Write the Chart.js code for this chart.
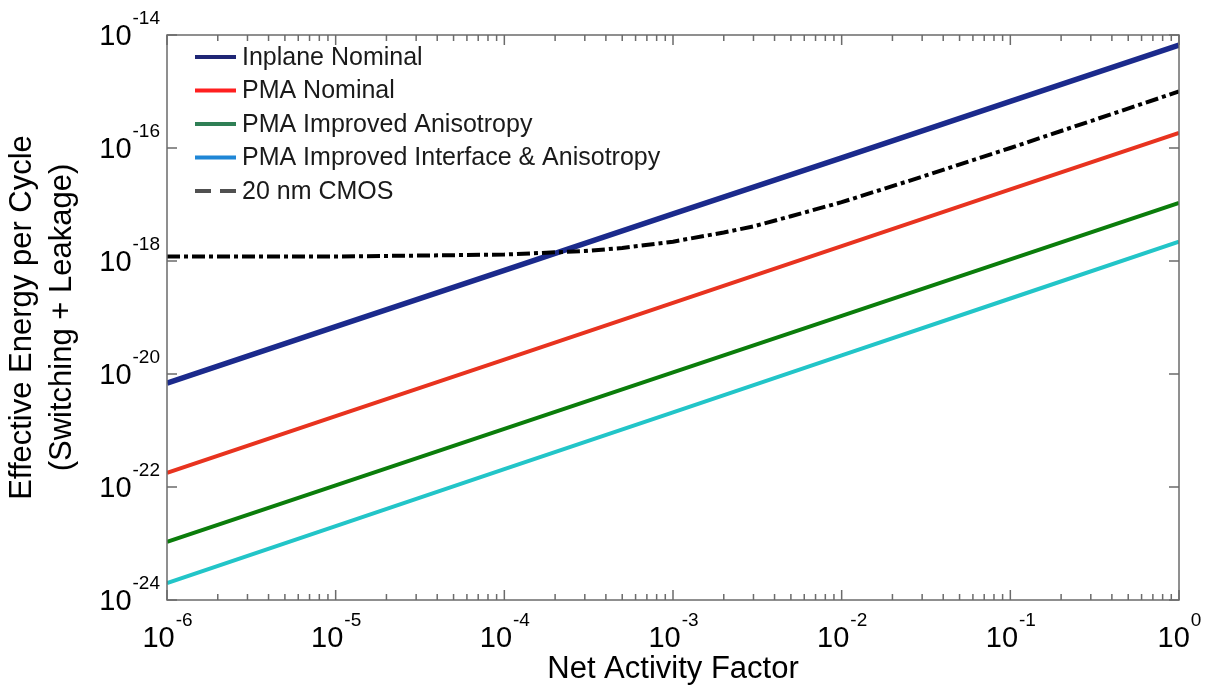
<!DOCTYPE html>
<html>
<head>
<meta charset="utf-8">
<title>Effective energy per cycle vs net activity factor</title>
<script src="https://cdn.jsdelivr.net/npm/chart.js@4.4.1/dist/chart.umd.min.js"></script>
<style>
    html, body { margin: 0; padding: 0; background: #fff; }
    #wrap { width: 1211px; height: 691px; }
</style>
</head>
<body>
<div id="wrap"><canvas id="energyChart" width="1211" height="691"></canvas></div>
<script>
// device lines are straight on log-log, read once per decade
var activity = [1e-6, 1e-5, 1e-4, 1e-3, 1e-2, 1e-1, 1];
var inplaneNominal = [6.9e-21, 6.9e-20, 6.8e-19, 6.8e-18, 6.7e-17, 6.7e-16, 6.6e-15];
var pmaNominal = [1.78e-22, 1.8e-21, 1.8e-20, 1.82e-19, 1.83e-18, 1.85e-17, 1.86e-16];
var pmaAnisotropy = [1.07e-23, 1.07e-22, 1.07e-21, 1.07e-20, 1.07e-19, 1.07e-18, 1.07e-17];
var pmaInterface = [2.0e-24, 2.03e-23, 2.07e-22, 2.1e-21, 2.13e-20, 2.17e-19, 2.2e-18];

// the CMOS curve bends, so it is read at more places
var cmosActivity = [1e-6, 1e-5, 1e-4, 3e-4, 5e-4, 1e-3, 2e-3, 3e-3, 5e-3, 1e-2, 3e-2, 1e-1, 3e-1, 1];
var cmos20nm = [1.2e-18, 1.2e-18, 1.3e-18, 1.5e-18, 1.7e-18, 2.2e-18, 3.2e-18, 4.1e-18, 6.2e-18,
    1.1e-17, 3.1e-17, 1.0e-16, 3.0e-16, 1.0e-15];

// tick labels are powers of ten
var xTickExps = [-6, -5, -4, -3, -2, -1, 0];
var yTickExps = [-24, -22, -20, -18, -16, -14];

var seriesNames = ['Inplane Nominal', 'PMA Nominal', 'PMA Improved Anisotropy',
    'PMA Improved Interface & Anisotropy', '20 nm CMOS'];

function toPoints(xs, ys) {
    return xs.map(function (x, i) { return {x: x, y: ys[i]}; });
}

var FONT = '"Liberation Sans", Arial, sans-serif';

// legend swatches are a bit different from the plotted lines in the original
var legendStyle = [
    {color: '#1f2675', dash: []},
    {color: '#ff1f1f', dash: []},
    {color: '#2f7f55', dash: []},
    {color: '#1f86d6', dash: []},
    {color: '#505050', dash: [16, 9]}
];

function drawPower(ctx, exp, x, y, mode) {
    // "10" with a raised exponent; mode 'center' (x axis) or 'right' (y axis)
    ctx.font = '29px ' + FONT;
    var wb = ctx.measureText('10').width;
    ctx.font = '19px ' + FONT;
    var we = ctx.measureText(String(exp)).width;
    var start = mode === 'center' ? x - (wb + we) / 2 : x - wb - we - 1;
    ctx.textAlign = 'left';
    ctx.textBaseline = 'alphabetic';
    ctx.font = '29px ' + FONT;
    ctx.fillText('10', start, y);
    ctx.font = '19px ' + FONT;
    ctx.fillText(String(exp), start + wb + 1, y - 21);
}

var axesPlugin = {
    id: 'matlabAxes',
    afterDatasetsDraw: function (chart) {
        var ctx = chart.ctx;
        var area = chart.chartArea;
        var xs = chart.scales.x;
        var ys = chart.scales.y;
        ctx.save();

        // frame
        ctx.strokeStyle = '#6b6b6b';
        ctx.lineWidth = 1.5;
        ctx.setLineDash([]);
        ctx.strokeRect(area.left, area.top, area.right - area.left, area.bottom - area.top);

        // inward ticks, x: majors plus 2..9 minors, top and bottom
        ctx.beginPath();
        xTickExps.forEach(function (e, i) {
            var px = xs.getPixelForValue(Math.pow(10, e));
            ctx.moveTo(px, area.bottom); ctx.lineTo(px, area.bottom - 10);
            ctx.moveTo(px, area.top); ctx.lineTo(px, area.top + 10);
            if (i < xTickExps.length - 1) {
                for (var m = 2; m <= 9; m++) {
                    var pm = xs.getPixelForValue(m * Math.pow(10, e));
                    ctx.moveTo(pm, area.bottom); ctx.lineTo(pm, area.bottom - 6);
                    ctx.moveTo(pm, area.top); ctx.lineTo(pm, area.top + 6);
                }
            }
        });
        yTickExps.forEach(function (e) {
            var py = ys.getPixelForValue(Math.pow(10, e));
            ctx.moveTo(area.left, py); ctx.lineTo(area.left + 10, py);
            ctx.moveTo(area.right, py); ctx.lineTo(area.right - 10, py);
        });
        ctx.stroke();

        // tick labels
        ctx.fillStyle = '#000';
        xTickExps.forEach(function (e) {
            drawPower(ctx, e, xs.getPixelForValue(Math.pow(10, e)), area.bottom + 47, 'center');
        });
        yTickExps.forEach(function (e) {
            drawPower(ctx, e, area.left - 7, ys.getPixelForValue(Math.pow(10, e)) + 10, 'right');
        });

        // legend in the upper left of the plot
        ctx.font = '25px ' + FONT;
        ctx.textBaseline = 'middle';
        ctx.textAlign = 'left';
        chart.data.datasets.forEach(function (ds, i) {
            var cy = area.top + 22 + i * 33.5;
            ctx.strokeStyle = legendStyle[i].color;
            ctx.lineWidth = 4;
            ctx.setLineDash(legendStyle[i].dash);
            ctx.beginPath();
            ctx.moveTo(area.left + 28, cy);
            ctx.lineTo(area.left + 69, cy);
            ctx.stroke();
            ctx.setLineDash([]);
            ctx.fillStyle = '#1a1a1a';
            ctx.fillText(ds.label, area.left + 75, cy + 1);
        });
        ctx.restore();
    }
};

var ctx = document.getElementById('energyChart').getContext('2d');
new Chart(ctx, {
    type: 'line',
    data: {
        datasets: [{
            label: seriesNames[0],
            data: toPoints(activity, inplaneNominal),
            borderColor: '#1b2a8c',
            borderWidth: 5.5,
            order: 5
        }, {
            label: seriesNames[1],
            data: toPoints(activity, pmaNominal),
            borderColor: '#e8331f',
            borderWidth: 4,
            order: 4
        }, {
            label: seriesNames[2],
            data: toPoints(activity, pmaAnisotropy),
            borderColor: '#0b7d0b',
            borderWidth: 4,
            order: 3
        }, {
            label: seriesNames[3],
            data: toPoints(activity, pmaInterface),
            borderColor: '#22c5c8',
            borderWidth: 4,
            order: 2
        }, {
            label: seriesNames[4],
            data: toPoints(cmosActivity, cmos20nm),
            borderColor: '#000000',
            borderWidth: 4,
            borderDash: [13, 4, 4, 4],
            order: 1
        }]
    },
    options: {
        responsive: false,
        animation: false,
        events: [],
        layout: {padding: {left: 0, top: 35, right: 32, bottom: 0}},
        elements: {
            point: {radius: 0},
            line: {tension: 0, fill: false, borderCapStyle: 'butt'}
        },
        plugins: {
            legend: {display: false},
            tooltip: {enabled: false}
        },
        scales: {
            x: {
                type: 'logarithmic',
                min: 1e-6,
                max: 1,
                grid: {display: false},
                border: {display: false},
                ticks: {display: false},
                title: {
                    display: true,
                    text: 'Net Activity Factor',
                    color: '#000',
                    font: {family: FONT, size: 31},
                    padding: {top: 0, bottom: 3}
                },
                afterFit: function (scale) { scale.height = 91; }
            },
            y: {
                type: 'logarithmic',
                min: 1e-24,
                max: 1e-14,
                grid: {display: false},
                border: {display: false},
                ticks: {display: false},
                title: {
                    display: true,
                    text: ['Effective Energy per Cycle', '(Switching + Leakage)'],
                    color: '#000',
                    font: {family: FONT, size: 31, lineHeight: 1.3},
                    padding: {top: 2, bottom: 0}
                },
                afterFit: function (scale) { scale.width = 167; }
            }
        }
    },
    plugins: [axesPlugin]
});
</script>
</body>
</html>
